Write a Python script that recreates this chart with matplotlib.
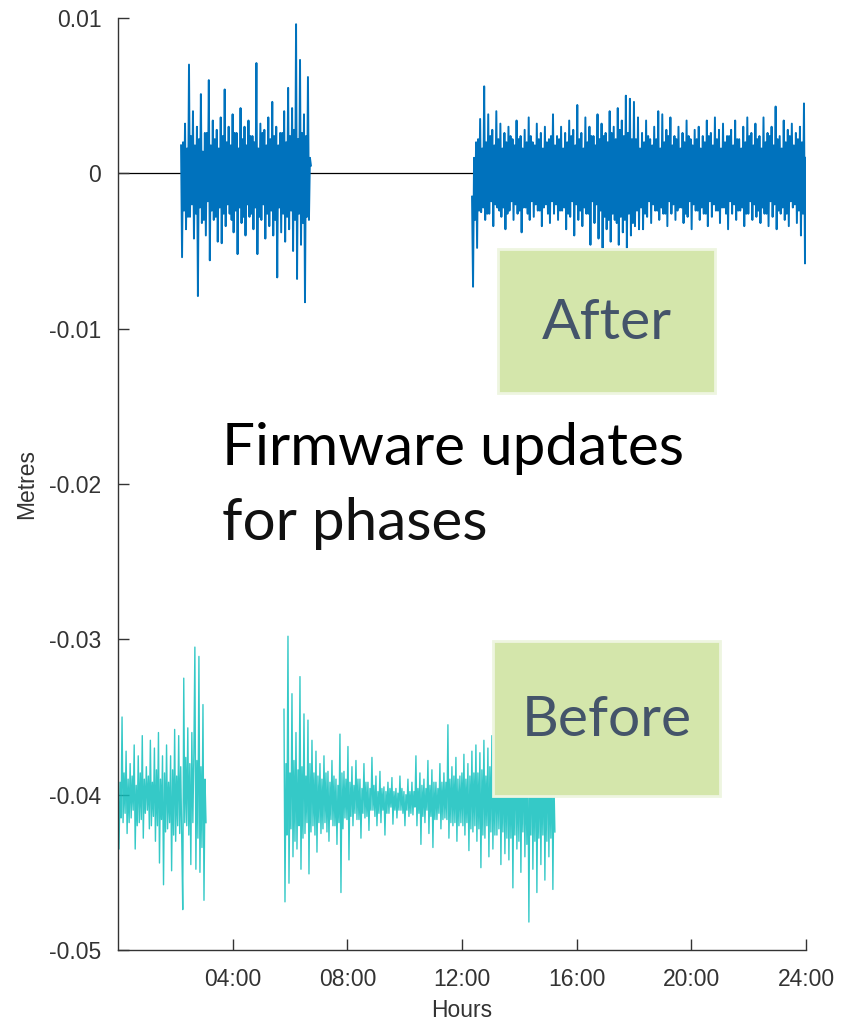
import numpy as np
import matplotlib
matplotlib.use("Agg")
import matplotlib.pyplot as plt
from matplotlib.patches import Rectangle

# ---- data (millimetres) ----
# "after" series, two recording windows (hours)
AFTER_1_SPAN = (2.20, 6.73)
AFTER_1 = [1.8, -5.4, 2.0, -2.4, 3.2, -3.6, 1.6, -2.8, 7.0, -2.8, 2.4, -2.0,
           4.0, -4.2, 1.8, -2.6, 3.0, -7.9, 2.2, -2.2, 5.1, -3.2, 1.4, -3.0,
           2.6, -4.0, 2.6, -1.8, 6.0, -5.6, 1.8, -2.4, 3.4, -3.0, 2.2, -2.8,
           2.8, -4.4, 1.6, -2.2, 3.6, -4.5, 2.4, -2.6, 5.4, -3.4, 2.0, -2.0,
           3.0, -2.6, 1.8, -3.0, 3.8, -3.8, 2.6, -2.4, 2.6, -5.2, 1.6, -2.2,
           4.2, -3.2, 2.2, -2.8, 3.0, -4.0, 1.8, -2.0, 3.4, -2.8, 2.4, -2.6,
           2.4, -3.6, 2.0, -2.2, 7.1, -5.2, 1.6, -2.8, 3.2, -3.0, 2.6, -2.0,
           2.8, -4.2, 1.8, -2.6, 3.6, -3.4, 2.2, -2.4, 4.6, -4.0, 2.4, -3.0,
           3.0, -6.7, 1.8, -2.2, 2.6, -3.8, 2.6, -2.6, 4.0, -4.4, 2.0, -2.8,
           5.5, -3.6, 2.4, -2.4, 4.2, -5.0, 2.8, -3.0, 9.6, -6.8, 2.2, -2.6,
           7.3, -4.6, 2.6, -3.2, 3.8, -8.3, 2.4, -2.8, 6.2, -3.0, 1.0, 0.5]

AFTER_2_SPAN = (12.35, 24.0)
AFTER_2 = [-1.5, -7.3, 1.0, -3.0, 2.0, -4.8, 2.2, -2.4, 3.5, -2.5, 1.6, -2.2, 5.6, -3.0, 2.0, -2.6,
           3.8, -2.6, 2.4, -1.8, 2.8, -3.4, 1.8, -2.0, 4.0, -2.2, 2.2, -2.4, 3.2, -2.8, 1.6, -2.2,
           2.6, -3.6, 2.0, -2.6, 3.0, -2.4, 2.4, -1.8, 2.2, -3.0, 1.8, -2.0, 3.4, -2.6, 2.2, -2.4,
           2.4, -3.8, 1.6, -2.2, 2.8, -2.2, 2.0, -2.6, 3.6, -3.0, 2.4, -1.8, 2.0, -2.8, 1.8, -2.0,
           3.2, -2.4, 2.2, -2.4, 2.6, -3.4, 1.6, -2.2, 3.0, -2.0, 2.0, -2.6, 2.2, -3.2, 2.4, -1.8,
           3.8, -2.6, 1.8, -2.0, 2.4, -3.0, 2.2, -2.4, 3.0, -2.4, 1.6, -2.2, 2.6, -3.6, 2.0, -2.6,
           3.4, -2.8, 2.4, -1.8, 2.8, -4.0, 1.8, -2.0, 4.4, -3.0, 2.2, -2.4, 2.6, -3.4, 1.6, -2.2,
           3.6, -2.6, 2.0, -2.6, 3.0, -4.6, 2.4, -1.8, 2.4, -3.2, 1.8, -2.0, 3.8, -4.2, 2.2, -2.4,
           3.2, -4.8, 2.4, -2.8, 2.6, -3.6, 2.0, -3.0, 4.0, -4.4, 2.6, -2.6, 3.0, -3.0, 2.2, -3.2,
           4.2, -4.6, 2.8, -2.8, 3.4, -3.8, 2.4, -3.0, 5.0, -4.8, 2.6, -2.6, 4.8, -4.0, 2.2, -3.2,
           4.6, -3.4, 2.2, -2.4, 3.6, -3.6, 1.6, -2.2, 2.6, -3.6, 2.0, -2.6, 3.4, -2.8, 2.4, -1.8,
           2.2, -3.2, 1.8, -2.0, 3.0, -2.4, 2.2, -2.4, 4.0, -3.0, 1.6, -2.2, 3.8, -2.6, 2.0, -2.6,
           2.8, -3.4, 2.4, -1.8, 3.6, -2.6, 1.8, -2.0, 2.4, -3.0, 2.2, -2.4, 3.0, -2.2, 1.6, -2.2,
           2.6, -3.2, 2.0, -2.6, 3.4, -2.8, 2.4, -1.8, 2.2, -3.6, 1.8, -2.0, 2.8, -2.4, 2.2, -2.4,
           3.0, -3.0, 1.6, -2.2, 2.4, -2.6, 2.0, -2.6, 3.4, -3.4, 2.4, -1.8, 2.6, -2.8, 1.8, -2.0,
           3.6, -2.4, 2.2, -2.4, 2.8, -3.2, 1.6, -2.2, 3.2, -2.2, 2.0, -2.6, 2.4, -3.6, 2.4, -1.8,
           2.8, -2.6, 1.8, -2.0, 3.4, -3.0, 2.2, -2.4, 2.2, -2.4, 1.6, -2.2, 3.0, -3.4, 2.0, -2.6,
           3.6, -2.6, 2.4, -1.8, 2.6, -3.0, 1.8, -2.0, 3.2, -2.8, 2.2, -2.4, 2.4, -3.2, 1.6, -2.2,
           3.6, -2.6, 2.0, -2.6, 2.6, -3.4, 2.4, -1.8, 3.0, -2.8, 1.8, -2.0, 4.3, -3.6, 2.2, -2.4,
           2.4, -2.6, 1.6, -2.2, 3.4, -3.0, 2.0, -2.6, 2.8, -3.4, 2.4, -1.8, 3.2, -2.2, 1.8, -2.0,
           2.6, -3.2, 2.2, -2.4, 3.0, -4.0, 2.0, -2.6, 4.5, -5.8, 1.0]

# "before" series
BEFORE_1_SPAN = (0.0, 3.07)
BEFORE_1 = [-39.0, -43.5, -39.2, -41.5, -35.0, -41.8, -38.6, -41.2,
            -37.2, -42.5, -39.0, -41.8, -38.0, -41.5, -38.8, -41.0,
            -36.8, -43.5, -39.4, -42.0, -37.5, -41.8, -38.6, -41.6,
            -36.2, -42.8, -39.0, -41.2, -38.2, -41.0, -38.8, -42.2,
            -36.5, -42.0, -39.2, -41.4, -37.0, -43.0, -38.4, -42.0,
            -36.0, -44.4, -39.0, -41.6, -37.5, -45.8, -38.6, -42.4,
            -36.8, -42.2, -39.2, -41.8, -37.5, -44.9, -38.4, -42.6,
            -35.8, -43.0, -38.8, -42.0, -36.2, -42.5, -38.2, -42.8,
            -47.4, -32.5, -41.8, -37.6, -42.0, -35.7, -42.6, -38.0,
            -44.5, -36.0, -41.8, -37.4, -30.5, -44.8, -37.8, -42.8,
            -31.1, -45.0, -38.2, -43.4, -34.2, -46.8, -39.0, -41.8]

BEFORE_2_SPAN = (5.79, 15.24)
BEFORE_2 = [-34.5, -46.9, -38.0, -42.6, -29.8, -45.7, -38.6, -42.2, -33.5, -44.0, -37.8, -43.0, -36.0, -43.5, -38.4, -42.0,
            -32.4, -44.8, -38.2, -42.8, -34.8, -42.5, -38.8, -41.8, -35.2, -45.1, -38.0, -42.4, -36.5, -42.0, -38.6, -42.6,
            -37.2, -43.7, -38.8, -41.8, -38.0, -42.5, -39.0, -42.2, -37.5, -41.8, -38.6, -42.4, -38.5, -43.0, -39.2, -41.6,
            -37.8, -42.0, -38.8, -42.0, -39.0, -43.2, -39.4, -41.8, -36.1, -46.3, -38.6, -42.2, -38.5, -41.5, -39.0, -41.6,
            -36.9, -44.2, -39.2, -41.4, -38.2, -42.0, -39.4, -41.2, -37.8, -41.6, -39.0, -41.6, -39.0, -42.8, -39.6, -41.2,
            -38.0, -41.5, -39.2, -41.4, -39.2, -42.3, -39.6, -41.0, -37.6, -41.0, -39.4, -41.4, -38.8, -42.0, -39.8, -41.2,
            -38.5, -41.8, -39.6, -41.0, -39.5, -42.6, -39.8, -41.2, -39.2, -41.2, -39.6, -40.8, -38.9, -41.9, -39.8, -41.0,
            -39.6, -41.5, -39.9, -41.0, -38.8, -41.0, -39.6, -41.2, -39.8, -42.0, -40.0, -41.0, -39.0, -41.4, -39.8, -41.2,
            -39.2, -41.3, -39.8, -40.8, -37.5, -42.0, -39.6, -41.2, -38.6, -43.2, -39.4, -41.4, -39.0, -41.8, -39.6, -41.0,
            -37.8, -42.5, -39.4, -41.4, -38.4, -43.4, -39.2, -41.6, -39.2, -41.6, -39.6, -41.2, -38.0, -42.2, -39.2, -41.6,
            -38.6, -41.5, -39.2, -41.6, -35.5, -42.8, -39.0, -41.8, -38.2, -42.0, -38.8, -41.8, -37.6, -43.0, -39.0, -42.0,
            -38.8, -41.8, -38.6, -42.0, -37.4, -42.6, -39.0, -41.8, -38.0, -43.6, -38.8, -42.2, -37.2, -42.4, -38.6, -42.0,
            -36.8, -43.0, -38.6, -42.2, -37.3, -44.7, -38.4, -42.6, -36.5, -42.8, -38.8, -42.0, -37.0, -44.0, -38.2, -42.4,
            -36.2, -43.5, -38.6, -42.6, -37.5, -42.6, -38.4, -42.2, -36.0, -44.5, -38.6, -42.4, -37.2, -43.8, -38.2, -42.8,
            -36.4, -44.2, -38.4, -42.8, -37.0, -46.0, -38.2, -42.6, -36.2, -43.5, -38.6, -43.0, -35.8, -45.0, -38.4, -42.4,
            -36.5, -44.0, -38.0, -43.2, -37.0, -48.2, -38.4, -42.6, -36.0, -44.8, -38.2, -43.0, -35.6, -46.3, -38.6, -42.8,
            -36.8, -44.5, -38.4, -42.6, -36.0, -45.5, -38.2, -43.0, -35.8, -44.0, -38.6, -42.8, -36.5, -46.1, -39.0, -42.4]

XTICKS = [4, 8, 12, 16, 20, 24]
XTICKLABELS = ["04:00", "08:00", "12:00", "16:00", "20:00", "24:00"]
YTICKS = [0.01, 0, -0.01, -0.02, -0.03, -0.04, -0.05]
YTICKLABELS = ["0.01", "0", "-0.01", "-0.02", "-0.03", "-0.04", "-0.05"]

BLUE = "#0072BD"
CYAN = "#12C0BE"
AXC = "#333333"


def series(span, vals_mm):
    t = np.linspace(span[0], span[1], len(vals_mm))
    return t, np.asarray(vals_mm) / 1000.0


def main():
    plt.rcParams["font.family"] = ["Liberation Sans", "DejaVu Sans"]
    fig = plt.figure(figsize=(8.41, 10.26), dpi=100)
    ax = fig.add_axes([118 / 841, 1 - 950 / 1026, 688 / 841, 932 / 1026])

    ax.axhline(0, color="black", lw=0.9, zorder=1)
    for span, vals in [(AFTER_1_SPAN, AFTER_1), (AFTER_2_SPAN, AFTER_2)]:
        t, v = series(span, vals)
        ax.plot(t, v, color=BLUE, lw=1.4, zorder=2)
    for span, vals in [(BEFORE_1_SPAN, BEFORE_1), (BEFORE_2_SPAN, BEFORE_2)]:
        t, v = series(span, vals)
        ax.plot(t, v, color=CYAN, lw=1.0, alpha=0.85, zorder=2)

    ax.set_xlim(0, 24)
    ax.set_ylim(-0.05, 0.01)
    ax.set_xticks(XTICKS)
    ax.set_xticklabels(XTICKLABELS)
    ax.set_yticks(YTICKS)
    ax.set_yticklabels(YTICKLABELS)
    ax.tick_params(direction="in", length=8, width=1, colors=AXC,
                   labelsize=16.5, labelcolor=AXC)
    ax.tick_params(axis="x", pad=13)
    ax.tick_params(axis="y", pad=12)
    for s in ["top", "right"]:
        ax.spines[s].set_visible(False)
    for s in ["left", "bottom"]:
        ax.spines[s].set_color(AXC)
        ax.spines[s].set_linewidth(1.0)
    ax.set_xlabel("Hours", fontsize=16.5, color=AXC, labelpad=6)
    ax.set_ylabel("Metres", fontsize=16.5, color=AXC, labelpad=8)

    # annotation boxes (pixel layout of the reference slide)
    W, H = 841, 1026
    for (x0, y0, x1, y1, label) in [(498, 249, 715, 393, "After"),
                                    (493, 641, 720, 796, "Before")]:
        fig.patches.append(Rectangle((x0 / W, 1 - y1 / H), (x1 - x0) / W, (y1 - y0) / H,
                                     transform=fig.transFigure, facecolor="#d4e6ab",
                                     edgecolor="#eef5e0", lw=2, zorder=5))
        fig.text((x0 + x1) / 2 / W, 1 - ((y0 + y1) / 2 + 2) / H, label,
                 ha="center", va="center", fontsize=41, color="#44546a",
                 family=["Lato", "DejaVu Sans"], zorder=6)

    fig.text(222 / W, 1 - 465 / H, "Firmware updates", ha="left", va="baseline",
             fontsize=42, color="black", family=["Lato", "DejaVu Sans"], zorder=6)
    fig.text(222 / W, 1 - 540 / H, "for phases", ha="left", va="baseline",
             fontsize=42, color="#111111",
             family=["Lato", "DejaVu Sans"], zorder=6)

    fig.savefig("out.png", dpi=100)


if __name__ == "__main__":
    main()
